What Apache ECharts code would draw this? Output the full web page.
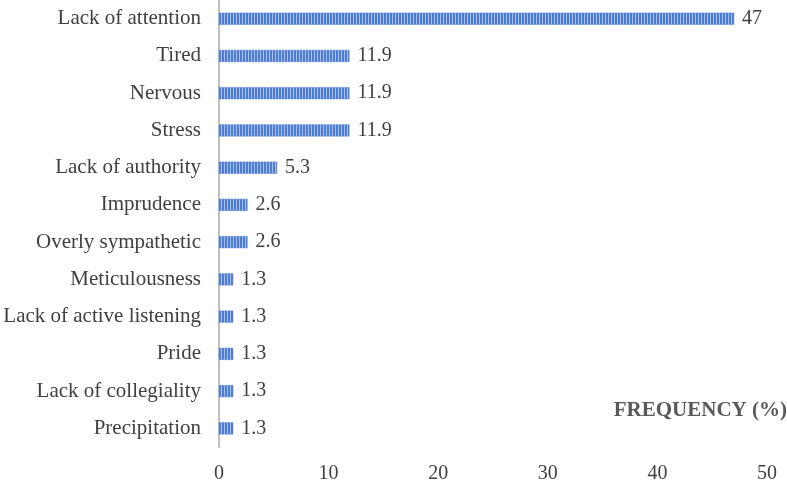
<!DOCTYPE html>
<html>
<head>
<meta charset="utf-8">
<script src="https://cdn.jsdelivr.net/npm/echarts@6/dist/echarts.min.js"></script>
<style>
  html, body { margin: 0; padding: 0; background: #fff; }
  #chart { width: 787px; height: 480px; }
</style>
</head>
<body>
<div id="chart"></div>
<script>
const categories = [
  'Lack of attention', 'Tired', 'Nervous', 'Stress', 'Lack of authority',
  'Imprudence', 'Overly sympathetic', 'Meticulousness',
  'Lack of active listening', 'Pride', 'Lack of collegiality', 'Precipitation'
];
const frequency = [47, 11.9, 11.9, 11.9, 5.3, 2.6, 2.6, 1.3, 1.3, 1.3, 1.3, 1.3];
const xTicks = [0, 10, 20, 30, 40, 50];

// vertical stripe fill like the original
const stripe = document.createElement('canvas');
stripe.width = 3;
stripe.height = 4;
const ctx = stripe.getContext('2d');
ctx.fillStyle = '#4d7dd0';
ctx.fillRect(0, 0, 3, 4);
ctx.fillStyle = '#a9c0ea';
ctx.fillRect(2, 0, 1, 4);

const chart = echarts.init(document.getElementById('chart'));
const textColor = '#404040';
const font = 'Liberation Serif';

chart.setOption({
  animation: false,
  grid: { left: 219, right: 20, top: 0, bottom: 33, outerBoundsMode: 'none' },
  xAxis: {
    type: 'value',
    min: xTicks[0],
    max: xTicks[xTicks.length - 1],
    interval: 10,
    axisLine: { show: false },
    axisTick: { show: false },
    splitLine: { show: false },
    axisLabel: { color: textColor, fontFamily: font, fontSize: 20, margin: 17 }
  },
  yAxis: {
    type: 'category',
    data: categories,
    inverse: true,
    axisLine: { show: true, lineStyle: { color: '#bfbfbf', width: 2 } },
    axisTick: { show: false },
    axisLabel: { color: textColor, fontFamily: font, fontSize: 21, margin: 18 }
  },
  graphic: [{
    type: 'text',
    right: 0,
    top: 400,
    style: {
      text: 'FREQUENCY (%)',
      fill: '#595959',
      font: 'bold 21px "Liberation Serif"'
    }
  }],
  series: [{
    type: 'bar',
    data: frequency,
    barWidth: 12,
    itemStyle: {
      color: { image: stripe, repeat: 'repeat' },
      borderColor: '#4d7dd0',
      borderWidth: 0.5
    },
    label: {
      show: true,
      position: 'right',
      distance: 8,
      color: textColor,
      fontFamily: font,
      fontSize: 20
    }
  }]
});
</script>
</body>
</html>
